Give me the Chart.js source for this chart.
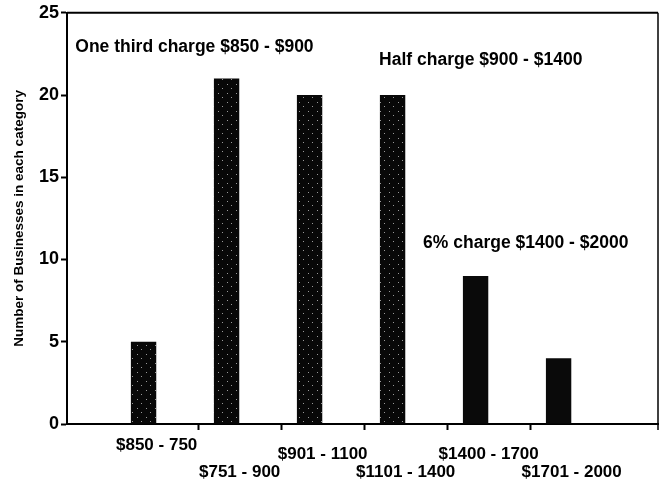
<!DOCTYPE html>
<html>
<head>
<meta charset="utf-8">
<script src="https://cdn.jsdelivr.net/npm/chart.js@4.4.1/dist/chart.umd.min.js"></script>
<style>
  body { margin: 0; background: #fff; }
  #wrap { width: 664px; height: 487px; }
</style>
</head>
<body>
<div id="wrap"><canvas id="chart"></canvas></div>
<script>
// DATA
var categories = ['$850 - 750', '$751 - 900', '$901 - 1100', '$1101 - 1400', '$1400 - 1700', '$1701 - 2000'];
var businesses = [5, 21, 20, 20, 9, 4];
// staggered tick labels (blank lines push a label down)
var tickLabels = [
  ['$850 - 750'],
  ['', '', '', '$751 - 900'],
  ['', '$901 - 1100'],
  ['', '', '', '$1101 - 1400'],
  ['', '$1400 - 1700'],
  ['', '', '', '$1701 - 2000']
];
var yTicks = [0, 5, 10, 15, 20, 25];
var notes = ['One third charge $850 - $900', 'Half charge $900 - $1400', '6% charge $1400 - $2000'];

var FONT = "'Liberation Sans', Arial, sans-serif";

// speckled fill like the scanned bars
function speckle() {
  var c = document.createElement('canvas');
  c.width = 9; c.height = 9;
  var g = c.getContext('2d');
  g.fillStyle = '#080808';
  g.fillRect(0, 0, 9, 9);
  g.fillStyle = '#9a9a9a';
  g.fillRect(2, 3, 1, 1);
  g.fillRect(6, 7, 1, 1);
  return g.createPattern(c, 'repeat');
}
var pat = speckle();

// annotation texts, placed in data units
var notePos = [
  { x: -0.98, y: 22.9 },
  { x: 2.68, y: 22.1 },
  { x: 3.21, y: 11.0 }
];

var notesPlugin = {
  id: 'notes',
  afterDraw: function(chart) {
    var ctx = chart.ctx;
    var xs = chart.scales.x, ys = chart.scales.y;
    var a = chart.chartArea;
    ctx.save();
    // box top and right
    ctx.strokeStyle = '#000';
    ctx.lineWidth = 2;
    ctx.beginPath();
    ctx.moveTo(a.left, a.top);
    ctx.lineTo(a.right, a.top);
    ctx.stroke();
    ctx.lineWidth = 1.5;
    ctx.beginPath();
    ctx.moveTo(a.right, a.top);
    ctx.lineTo(a.right, a.bottom + 6);
    ctx.stroke();

    ctx.fillStyle = '#000';
    ctx.font = 'bold 17.5px ' + FONT;
    ctx.textAlign = 'left';
    ctx.textBaseline = 'middle';
    notes.forEach(function(t, i) {
      ctx.fillText(t, xs.getPixelForValue(notePos[i].x), ys.getPixelForValue(notePos[i].y));
    });
    ctx.restore();
  }
};

new Chart(document.getElementById('chart'), {
  type: 'bar',
  data: {
    datasets: [
      {
        label: 'Businesses',
        data: businesses.map(function(v, i) { return { x: i, y: v }; }),
        backgroundColor: [pat, pat, pat, pat, '#0a0a0a', '#0a0a0a'],
        borderWidth: 0
      },
      {
        // empty second series of the group, keeps bars left in each slot
        label: '',
        data: [],
        backgroundColor: '#000'
      }
    ]
  },
  options: {
    responsive: true,
    maintainAspectRatio: false,
    animation: false,
    categoryPercentage: 0.63,
    barPercentage: 0.97,
    layout: { padding: { top: 12, right: 6, left: 0, bottom: 0 } },
    plugins: {
      legend: { display: false },
      tooltip: { enabled: false }
    },
    scales: {
      x: {
        type: 'linear',
        min: -1.08,
        max: 6.04,
        offset: false,
        afterBuildTicks: function(scale) {
          scale.ticks = categories.map(function(c, i) { return { value: i }; });
        },
        afterFit: function(scale) { scale.height = 63; },
        border: { display: true, color: '#000', width: 2 },
        grid: {
          offset: true,
          drawOnChartArea: false,
          drawTicks: true,
          tickLength: 6,
          tickWidth: 2,
          tickColor: function(ctx) { return ctx.index >= 1 ? '#000' : 'rgba(0,0,0,0)'; }
        },
        ticks: {
          autoSkip: false,
          maxRotation: 0,
          minRotation: 0,
          padding: 11,
          color: '#000',
          font: { family: FONT, size: 17, weight: 'bold', lineHeight: '9px' },
          callback: function(v, i) { return tickLabels[i]; }
        }
      },
      y: {
        min: 0,
        max: 25,
        afterBuildTicks: function(scale) {
          scale.ticks = yTicks.map(function(v) { return { value: v }; });
        },
        afterFit: function(scale) { scale.width = 67; },
        border: { display: true, color: '#000', width: 2 },
        grid: {
          drawOnChartArea: false,
          drawTicks: true,
          tickLength: 6,
          tickWidth: 2,
          tickColor: '#000'
        },
        ticks: {
          padding: 2,
          color: '#000',
          font: { family: FONT, size: 18, weight: 'bold' }
        },
        title: {
          display: true,
          text: 'Number of Businesses in each category',
          color: '#000',
          padding: { top: 11, bottom: 0 },
          font: { family: FONT, size: 13.5, weight: 'bold' }
        }
      }
    }
  },
  plugins: [notesPlugin]
});
</script>
</body>
</html>
